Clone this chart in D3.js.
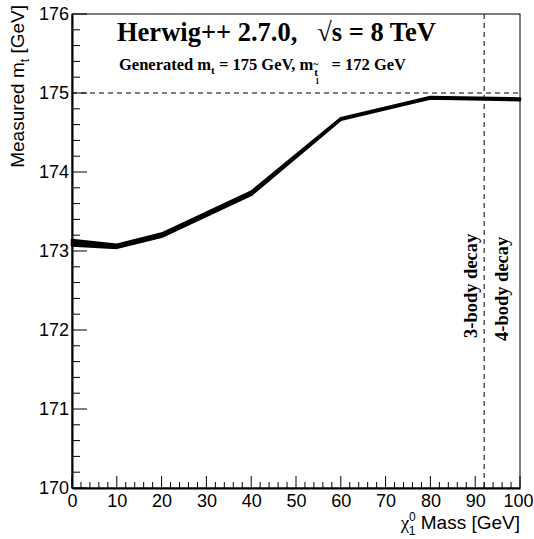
<!DOCTYPE html>
<html lang="en">
<head>
<meta charset="UTF-8">
<title>Measured top mass</title>
<script src="https://d3js.org/d3.v7.min.js"></script>
<style>
    body { margin: 0; background: #fff; }
    .tick text { font-family: "Liberation Sans", Arial, sans-serif; font-size: 18px; fill: #000; }
    .serif { font-family: "Liberation Serif", "Times New Roman", serif; font-weight: bold; fill: #000; white-space: pre; }
</style>
</head>
<body>
<div id="chart"></div>
<script>
    // neutralino mass points and measured top mass (upper/lower edge of the band)
    const chiMass = [0, 10, 20, 40, 60, 80, 100];
    const mtUpper = [173.14, 173.08, 173.22, 173.75, 174.68, 174.95, 174.93];
    const mtLower = [173.07, 173.04, 173.18, 173.71, 174.66, 174.93, 174.91];
    const generatedMt = 175;
    const decayBoundary = 92;
    const xTicks = [0, 10, 20, 30, 40, 50, 60, 70, 80, 90, 100];
    const yTicks = [170, 171, 172, 173, 174, 175, 176];

    const W = 534, H = 539;
    const margin = { top: 14, right: 14, bottom: 51, left: 72 };
    const width = W - margin.left - margin.right,
        height = H - margin.top - margin.bottom;

    const svg = d3.select("#chart").append("svg")
        .attr("width", W).attr("height", H);
    const g = svg.append("g")
        .attr("transform", "translate(" + margin.left + "," + margin.top + ")");

    const x = d3.scaleLinear().domain([0, 100]).range([0, width]);
    const y = d3.scaleLinear().domain([170, 176]).range([height, 0]);

    // frame (top and right)
    g.append("rect").attr("width", width).attr("height", height)
        .attr("fill", "none").attr("stroke", "#000").attr("stroke-width", 1);

    // minor ticks
    g.selectAll(".xminor").data(d3.range(0, 101, 2)).enter().append("line")
        .attr("x1", d => x(d)).attr("x2", d => x(d))
        .attr("y1", height).attr("y2", d => d % 10 === 0 ? height - 12 : height - 6)
        .attr("stroke", "#000");
    g.selectAll(".yminor").data(d3.range(0, 31).map(i => 170 + i * 0.2)).enter().append("line")
        .attr("y1", d => y(d)).attr("y2", d => y(d))
        .attr("x1", 0).attr("x2", (d, i) => i % 5 === 0 ? 15 : 8)
        .attr("stroke", "#000");

    // axes
    const xAxis = g.append("g").attr("transform", "translate(0," + height + ")")
        .call(d3.axisBottom(x).tickValues(xTicks).tickSize(0).tickPadding(4));
    xAxis.select(".domain").attr("stroke-width", 2);
    xAxis.selectAll(".tick text").attr("dy", "0.85em")
        .attr("dx", d => d === 100 ? -2 : 0);

    const yAxis = g.append("g")
        .call(d3.axisLeft(y).tickValues(yTicks).tickFormat(d3.format("d")).tickSize(0).tickPadding(3));
    yAxis.select(".domain").attr("stroke-width", 2);

    // reference lines
    g.append("line")
        .attr("x1", 0).attr("x2", width)
        .attr("y1", y(generatedMt)).attr("y2", y(generatedMt))
        .attr("stroke", "#000").attr("stroke-dasharray", "5,4");
    g.append("line")
        .attr("x1", x(decayBoundary)).attr("x2", x(decayBoundary))
        .attr("y1", 0).attr("y2", height)
        .attr("stroke", "#000").attr("stroke-dasharray", "5,4");

    // measured band
    const pts = chiMass.map((m, i) => ({ m: m, hi: mtUpper[i], lo: mtLower[i] }));
    g.append("path").datum(pts)
        .attr("fill", "#000").attr("stroke", "#000").attr("stroke-width", 2.6)
        .attr("stroke-linejoin", "round")
        .attr("d", d3.area().x(d => x(d.m)).y0(d => y(d.lo)).y1(d => y(d.hi)));

    // texts
    svg.append("text").attr("class", "serif")
        .attr("x", 117).attr("y", 41).style("font-size", "26.5px")
        .text("Herwig++ 2.7.0,   \u221As = 8 TeV");

    const sub = svg.append("text").attr("class", "serif")
        .attr("x", 119).attr("y", 70).style("font-size", "16.5px");
    sub.append("tspan").text("Generated m");
    sub.append("tspan").attr("dy", 4).style("font-size", "11px").text("t");
    sub.append("tspan").attr("dy", -4).text(" = 175 GeV, m");
    // stop subscript: t with tilde and index 1, placed after the measured text
    const tx = 119 + sub.node().getComputedTextLength() + 1;
    svg.append("text").attr("class", "serif").attr("x", tx).attr("y", 76)
        .style("font-size", "11px").text("t");
    svg.append("text").attr("class", "serif").attr("x", tx - 1).attr("y", 67)
        .style("font-size", "10px").text("~");
    svg.append("text").attr("class", "serif").attr("x", tx + 1).attr("y", 84)
        .style("font-size", "8px").text("1");
    svg.append("text").attr("class", "serif")
        .attr("x", tx + 9).attr("y", 70).style("font-size", "16.5px")
        .text("  = 172 GeV");

    svg.append("text").attr("class", "serif")
        .attr("transform", "translate(477,338) rotate(-90)")
        .style("font-size", "18.5px").text("3-body decay");
    svg.append("text").attr("class", "serif")
        .attr("transform", "translate(508,341) rotate(-90)")
        .style("font-size", "18.5px").text("4-body decay");

    const yl = svg.append("text")
        .attr("transform", "translate(24,5) rotate(-90)")
        .attr("text-anchor", "end")
        .style("font-family", "Liberation Sans, Arial, sans-serif").style("font-size", "19px");
    yl.append("tspan").text("Measured m");
    yl.append("tspan").attr("dy", 5).style("font-size", "12px").text("t");
    yl.append("tspan").attr("dy", -5).text(" [GeV]");

    const xl = svg.append("text")
        .attr("x", 520).attr("y", 529)
        .attr("text-anchor", "end")
        .style("font-family", "Liberation Sans, Arial, sans-serif").style("font-size", "19px");
    xl.append("tspan").style("font-family", "Liberation Serif, serif").text("\u03C7");
    xl.append("tspan").attr("dy", -8).style("font-size", "12px").text("0");
    xl.append("tspan").attr("dx", -7).attr("dy", 14).style("font-size", "12px").text("1");
    xl.append("tspan").attr("dy", -6).text(" Mass [GeV]");
</script>
</body>
</html>
